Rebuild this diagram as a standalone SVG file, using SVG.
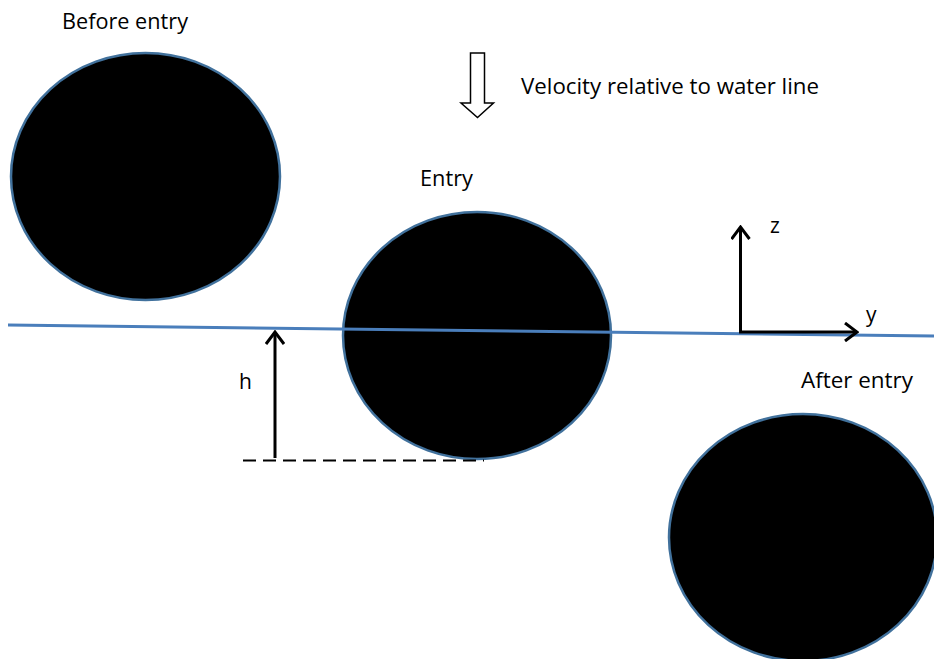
<svg xmlns="http://www.w3.org/2000/svg" width="934" height="659" viewBox="0 0 934 659">
<style>
.ball{fill:#000;stroke:#41719c;stroke-width:2.5}
.lbl{font-family:"Open Sans","Liberation Sans",sans-serif;font-size:21px;fill:#000}
.ax{stroke:#000;stroke-width:3;fill:none}
</style>
<defs>
<marker id="chev" viewBox="0 0 20 20" refX="18" refY="10" markerWidth="20" markerHeight="20" markerUnits="userSpaceOnUse" orient="auto">
<path d="M6,1 L18,10 L6,19" fill="none" stroke="#000" stroke-width="3"/>
</marker>
</defs>
<rect width="934" height="659" fill="#fff"/>
<g id="before">
<ellipse class="ball" cx="145.5" cy="176.5" rx="134.5" ry="123.5"/>
<text class="lbl" x="62" y="29" textLength="126" lengthAdjust="spacingAndGlyphs">Before entry</text>
</g>
<g id="entry">
<ellipse class="ball" cx="477" cy="335.5" rx="134" ry="123.5"/>
<text class="lbl" x="420" y="186" textLength="53" lengthAdjust="spacingAndGlyphs">Entry</text>
</g>
<g id="after">
<ellipse class="ball" cx="803" cy="537.5" rx="134" ry="123.5"/>
<text class="lbl" x="801" y="388" textLength="112" lengthAdjust="spacingAndGlyphs">After entry</text>
</g>
<g id="velocity">
<path d="M470.5,53 L484.5,53 L484.5,103 L493.5,103 L477.5,117.5 L461,103 L470.5,103 Z" fill="#fff" stroke="#000" stroke-width="1.5"/>
<text class="lbl" x="521" y="94" textLength="298" lengthAdjust="spacingAndGlyphs">Velocity relative to water line</text>
</g>
<g id="connectors">
<line x1="8" y1="325" x2="934" y2="336" stroke="#4a7ebb" stroke-width="3"/>
<line class="ax" x1="740.5" y1="332" x2="740.5" y2="227" marker-end="url(#chev)"/>
<line class="ax" x1="739" y1="332" x2="857" y2="332" marker-end="url(#chev)"/>
<line class="ax" x1="275" y1="458" x2="275" y2="332" marker-end="url(#chev)"/>
<line x1="243" y1="460.5" x2="484" y2="460.5" stroke="#000" stroke-width="2" stroke-dasharray="13,7"/>
</g>
<g id="labels">
<text class="lbl" x="239" y="389">h</text>
<text class="lbl" x="770" y="233">z</text>
<text class="lbl" x="866" y="322">y</text>
</g>
</svg>
